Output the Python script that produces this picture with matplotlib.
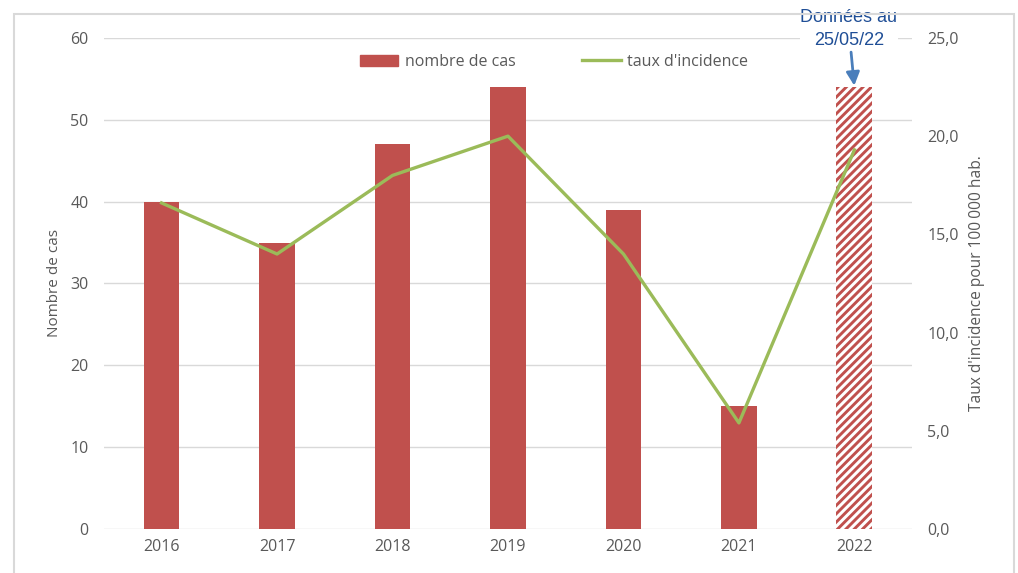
import matplotlib.pyplot as plt
from matplotlib.patches import Patch, Rectangle
from matplotlib.lines import Line2D

plt.rcParams['font.family'] = ['Open Sans', 'DejaVu Sans']
plt.rcParams['hatch.linewidth'] = 2.1

annees = ['2016', '2017', '2018', '2019', '2020', '2021', '2022']
nb_cas = [40, 35, 47, 54, 39, 15, 54]
taux = [16.6, 14.0, 18.0, 20.0, 14.0, 5.4, 19.3]

rouge = '#C0504D'
vert = '#9BBB59'
gris = '#595959'

fig = plt.figure(figsize=(10.18, 5.73), dpi=100)
ax = fig.add_axes([0.102, 0.0768, 0.794, 0.857])
ax2 = ax.twinx()

x = list(range(len(annees)))
# annees completes
ax.bar(x[:-1], nb_cas[:-1], width=0.31, color=rouge, zorder=2)
# 2022 partiel (hachure)
ax.bar(x[-1], nb_cas[-1], width=0.31, facecolor='white', edgecolor=rouge,
       hatch='////', linewidth=0, zorder=2)

ax2.plot(x, taux, color=vert, lw=2.4, zorder=3)

ax.set_xlim(-0.5, 6.5)
ax.set_ylim(0, 60)
ax.set_yticks(range(0, 61, 10))
ax2.set_ylim(0, 25)
ax2.set_yticks([0, 5, 10, 15, 20, 25])
ax2.set_yticklabels([f'{v:.1f}'.replace('.', ',') for v in [0, 5, 10, 15, 20, 25]])
ax.set_xticks(x)
ax.set_xticklabels(annees)

ax.grid(axis='y', color='#D9D9D9', lw=1, zorder=0)
ax.set_axisbelow(True)
for a in (ax, ax2):
    for s in a.spines.values():
        s.set_visible(False)
    a.tick_params(length=0, colors=gris, labelsize=11.5)
ax.tick_params(axis='y', pad=11)
ax.tick_params(axis='x', pad=7)
ax2.tick_params(axis='y', pad=11)

ax.set_ylabel('Nombre de cas', color=gris, fontsize=11, labelpad=6)
ax2.set_ylabel("Taux d'incidence pour 100\u202f000 hab.", color=gris, fontsize=11.2, labelpad=7)

handles = [Patch(color=rouge), Line2D([0], [0], color=vert, lw=2.4)]
ax.legend(handles, ['nombre de cas', "taux d'incidence"], ncol=2, frameon=False,
          loc='center', bbox_to_anchor=(0.557, 0.951), fontsize=11.5,
          handlelength=2.4, handletextpad=0.4, columnspacing=4.2,
          labelcolor=gris)

ax.annotate('Données au\n25/05/22', xy=(x[-1], nb_cas[-1]), xytext=(-4, 42),
            textcoords='offset points', ha='center', va='center',
            fontsize=13, color='#1F4E96', family='Liberation Sans',
            linespacing=1.45, annotation_clip=False,
            bbox=dict(facecolor='white', edgecolor='none', pad=0.5),
            arrowprops=dict(arrowstyle='-|>', color='#4A7EBB', lw=2,
                            mutation_scale=20, shrinkA=2, shrinkB=1))

fig.patches.append(Rectangle((0.014, -0.01), 0.982, 0.986, transform=fig.transFigure,
                             fill=False, edgecolor='#D9D9D9', lw=1.5, zorder=0))

fig.savefig('out.png', dpi=100)
